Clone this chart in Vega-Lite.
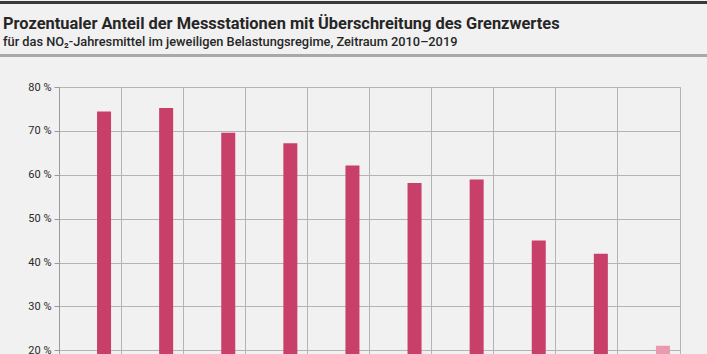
{
  "$schema": "https://vega.github.io/schema/vega-lite/v6.json",
  "autosize": {"type": "none"},
  "width": 621,
  "height": 351,
  "padding": {"left": 59, "top": 87, "right": 27, "bottom": 0},
  "background": "#f1f1f1",
  "title": {
    "text": "Prozentualer Anteil der Messstationen mit Überschreitung des Grenzwertes",
    "subtitle": "für das NO₂-Jahresmittel im jeweiligen Belastungsregime, Zeitraum 2010–2019",
    "anchor": "start",
    "frame": "group",
    "dx": -56,
    "offset": -48,
    "font": "Roboto",
    "fontSize": 16.4,
    "fontWeight": "bold",
    "color": "#262626",
    "subtitleFont": "Roboto",
    "subtitleFontSize": 12.8,
    "subtitleFontWeight": 500,
    "subtitleColor": "#262626",
    "subtitlePadding": 3.5
  },
  "data": {
    "values": [
      {"jahr": "2010", "regime": "verkehrsnah", "status": "final", "anteil": 74.4},
      {"jahr": "2011", "regime": "verkehrsnah", "status": "final", "anteil": 75.2},
      {"jahr": "2012", "regime": "verkehrsnah", "status": "final", "anteil": 69.6},
      {"jahr": "2013", "regime": "verkehrsnah", "status": "final", "anteil": 67.2},
      {"jahr": "2014", "regime": "verkehrsnah", "status": "final", "anteil": 62.1},
      {"jahr": "2015", "regime": "verkehrsnah", "status": "final", "anteil": 58.1},
      {"jahr": "2016", "regime": "verkehrsnah", "status": "final", "anteil": 58.9},
      {"jahr": "2017", "regime": "verkehrsnah", "status": "final", "anteil": 45.0},
      {"jahr": "2018", "regime": "verkehrsnah", "status": "final", "anteil": 42.0},
      {"jahr": "2019", "regime": "verkehrsnah", "status": "vorläufig", "anteil": 21.0}
    ]
  },
  "layer": [
    {
      "mark": {"type": "rule", "color": "#3a3a3a", "strokeWidth": 3},
      "encoding": {
        "x": {"value": -59},
        "x2": {"value": 648},
        "y": {"value": -84.5}
      }
    },
    {
      "mark": {"type": "rule", "color": "#a9a9a9", "strokeWidth": 2.5},
      "encoding": {
        "x": {"value": -59},
        "x2": {"value": 648},
        "y": {"value": -31.5}
      }
    },
    {
      "mark": {"type": "bar", "width": 14, "xOffset": 14},
      "encoding": {
        "x": {
          "field": "jahr",
          "type": "ordinal",
          "scale": {"paddingInner": 0, "paddingOuter": 0},
          "axis": {"bandPosition": 0, "title": null, "grid": true, "ticks": false, "domain": false, "labels": false}
        },
        "y": {
          "field": "anteil",
          "type": "quantitative",
          "scale": {"domain": [0, 80]},
          "axis": {
            "title": null,
            "values": [20, 30, 40, 50, 60, 70, 80],
            "labelExpr": "datum.value + ' %'",
            "labelFont": "Roboto",
            "labelFontSize": 11,
            "labelColor": "#2a2a2a",
            "labelPadding": 3,
            "tickSize": 5,
            "tickColor": "#9a9a9a",
            "domainColor": "#9a9a9a"
          }
        },
        "color": {
          "field": "status",
          "type": "nominal",
          "scale": {"domain": ["final", "vorläufig"], "range": ["#c83f69", "#e99aaf"]},
          "legend": null
        }
      }
    }
  ],
  "config": {
    "view": {"stroke": "#b4b4b4", "strokeWidth": 1},
    "axis": {"gridColor": "#b4b4b4", "gridOpacity": 1, "gridWidth": 1}
  }
}
